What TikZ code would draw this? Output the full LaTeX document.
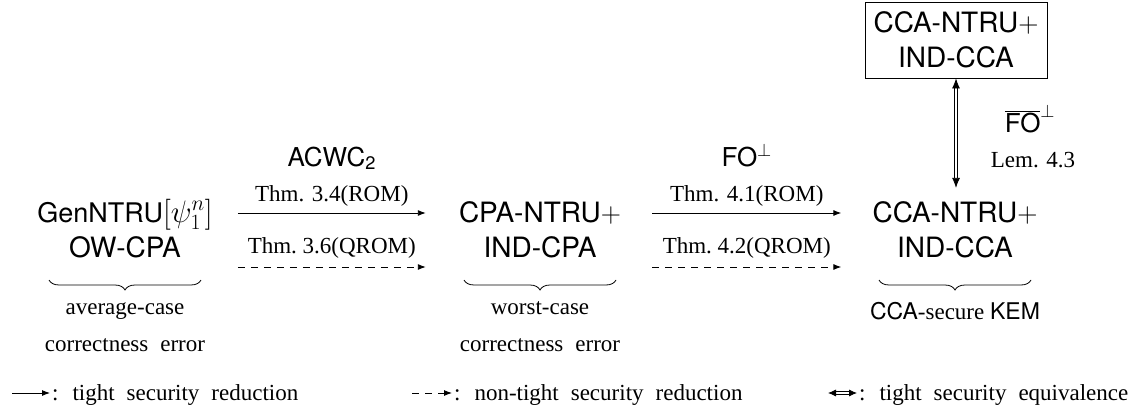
\RequirePackage{fix-cm}
\documentclass[tikz,border=0pt]{standalone}
\usepackage{fontspec}
\setmainfont{Liberation Serif}
\setsansfont{TeX Gyre Heros}
\usetikzlibrary{arrows.meta,decorations.pathreplacing,calc}
\newcommand\widespacing{\spaceskip 12pt plus 2pt minus 1pt\relax}
\tikzset{
 sfnode/.style={font=\fontsize{28}{35}\selectfont\sffamily, align=center, inner sep=0pt},
 lbl/.style={font=\fontsize{23}{37}\selectfont, inner sep=0pt},
 widelbl/.style={font=\fontsize{23}{37}\selectfont\widespacing, inner sep=0pt},
 sflbl/.style={font=\fontsize{26}{32}\selectfont\sffamily, inner sep=0pt},
 tipstyle/.style={-{Latex[length=8pt,width=6pt]}},
 tightarrow/.style={line width=0.9pt, tipstyle},
 loosearrow/.style={line width=0.9pt, dash pattern=on 7pt off 6pt, tipstyle},
 equivarrow/.style={double, double distance=2.5pt, line width=0.8pt, {Latex[length=10pt,width=8pt]}-{Latex[length=10pt,width=8pt]}},
 smallequiv/.style={double, double distance=2pt, line width=0.8pt, {Latex[length=8pt,width=7pt]}-{Latex[length=8pt,width=7pt]}},
 brc/.style={decorate, decoration={brace, mirror, amplitude=10pt}, line width=0.8pt},
}
\begin{document}
\begin{tikzpicture}[x=1pt,y=-1pt]
\useasboundingbox (0,0) rectangle (1140,412);
% main nodes (base = last line)
\node[sfnode, anchor=base] (n1) at (125,257) {{\fontsize{27}{35}\selectfont GenNTRU}{\fontsize{31}{35}\selectfont$[\psi_1^n]$}\\OW-CPA};
\node[sfnode, anchor=base] (n2) at (540,257) {CPA-NTRU$+$\\IND-CPA};
\node[sfnode, anchor=base] (n3) at (955,257) {CCA-NTRU$+$\\IND-CCA};
\node[sfnode, draw, line width=0.8pt, minimum width=182pt, minimum height=76pt] (top) at (956,40) {CCA-NTRU$+$\\IND-CCA};
% levels
\coordinate (roml) at (0,213);
\coordinate (qroml) at (0,267);
\coordinate (s1) at ($(n1.east)+(25,0)$);
\coordinate (e1) at ($(n2.west)+(-33,0)$);
\coordinate (s2) at ($(n2.east)+(31,0)$);
\coordinate (e2) at ($(n3.west)+(-31,0)$);
% arrows group 1
\draw[tightarrow] (s1|-roml) -- node[lbl, anchor=base, yshift=12pt] (t34) {Thm. 3.4(ROM)} (e1|-roml);
\node[sflbl, anchor=base] (acwc) at ($(t34.base)+(0,-35)$) {ACWC\textsubscript{2}};
\draw[loosearrow] (s1|-qroml) -- node[lbl, anchor=base, yshift=14pt] (t36) {Thm.\ 3.6(QROM)} (e1|-qroml);
% arrows group 2
\draw[tightarrow] (s2|-roml) -- node[lbl, anchor=base, yshift=12pt] (t41) {Thm. 4.1(ROM)} (e2|-roml);
\node[sflbl, anchor=base] (fo) at ($(t41.base)+(0,-35)$) {FO$^{\perp}$};
\draw[loosearrow] (s2|-qroml) -- node[lbl, anchor=base, yshift=14pt] (t42) {Thm.\ 4.2(QROM)} (e2|-qroml);
% vertical equivalence
\draw[equivarrow, shorten >=13pt] (top.south) -- (top.south |- n3.north);
\node[sflbl, anchor=base] (fobar) at (1030,132) {$\overline{\textsf{FO}}^{\perp}$};
\node[lbl, anchor=base] (lem) at (1033,167) {Lem. 4.3};
% braces
\coordinate (bl) at (0,280);
\coordinate (c1) at (n1.south |- bl);
\coordinate (c2) at (n2.south |- bl);
\coordinate (c3) at (n3.south |- bl);
\draw[brc] ($(c1)+(-76,0)$) -- ($(c1)+(76,0)$);
\draw[brc] ($(c2)+(-76,0)$) -- ($(c2)+(76,0)$);
\draw[brc] ($(c3)+(-76,0)$) -- ($(c3)+(76,0)$);
\node[widelbl, align=center, anchor=base] (u1) at ($(c1)+(0,71)$) {average-case\\correctness error};
\node[widelbl, align=center, anchor=base] (u2) at ($(c2)+(0,71)$) {worst-case\\correctness error};
\node[lbl, anchor=base] (u3) at ($(c3)+(0,39)$) {\textsf{CCA}-secure \textsf{KEM}};
% legend
\coordinate (la1) at (12,393);
\coordinate (la2) at (50,393);
\draw[tightarrow] (la1) -- (la2);
\node[widelbl, anchor=base west] (lt1) at ($(la2)+(2,7)$) {: tight security reduction};
\coordinate (lb1) at (412,393);
\coordinate (lb2) at (452,393);
\draw[loosearrow] (lb1) -- (lb2);
\node[widelbl, anchor=base west] (lt2) at ($(lb2)+(2,7)$) {: non-tight security reduction};
\coordinate (lc1) at (828,393);
\coordinate (lc2) at (857,393);
\draw[smallequiv] (lc1) -- (lc2);
\node[widelbl, anchor=base west] (lt3) at ($(lc2)+(2,7)$) {: tight security equivalence};
\end{tikzpicture}
\end{document}
